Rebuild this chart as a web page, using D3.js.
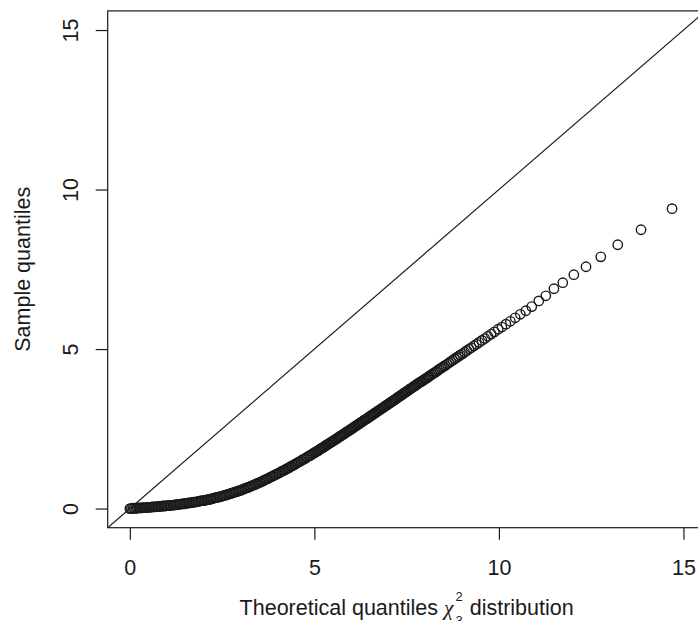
<!DOCTYPE html>
<html><head><meta charset="utf-8">
<script src="https://cdn.jsdelivr.net/npm/d3@7"></script>
<style>
body{margin:0;background:#fff}
svg{display:block}
text{font-family:"Liberation Sans",Arial,Helvetica,sans-serif;fill:#1a1a1a}
</style>
</head><body>
<svg id="chart" width="698" height="621"></svg>
<script>
// Theoretical quantiles (chi-square) and the matching sample quantiles
const theoretical = [
0.00,0.04,0.08,0.12,0.16,0.20,0.24,0.28,0.32,0.36,0.40,0.44,0.48,0.52,0.56,0.60,0.64,0.68,0.72,0.76,0.80,0.84,0.88,0.92,0.96,
1.00,1.04,1.08,1.12,1.16,1.20,1.24,1.28,1.32,1.36,1.40,1.44,1.48,1.52,1.56,1.60,1.64,1.68,1.72,1.76,1.80,1.84,1.88,1.92,1.96,
2.00,2.04,2.08,2.12,2.16,2.20,2.24,2.28,2.32,2.36,2.40,2.44,2.48,2.52,2.56,2.60,2.64,2.68,2.72,2.76,2.80,2.84,2.88,2.92,2.96,
3.00,3.04,3.08,3.12,3.16,3.20,3.24,3.28,3.32,3.36,3.40,3.44,3.48,3.52,3.56,3.60,3.64,3.68,3.72,3.76,3.80,3.84,3.88,3.92,3.96,
4.00,4.04,4.08,4.12,4.16,4.20,4.24,4.28,4.32,4.36,4.40,4.44,4.48,4.52,4.56,4.60,4.64,4.68,4.72,4.76,4.80,4.84,4.88,4.92,4.96,
5.00,5.03,5.06,5.09,5.12,5.15,5.18,5.21,5.24,5.27,5.30,5.33,5.36,5.39,5.42,5.45,5.48,5.51,5.54,5.57,5.60,5.63,5.66,5.69,5.72,
5.75,5.78,5.81,5.84,5.87,5.90,5.93,5.96,5.99,6.02,6.05,6.08,6.11,6.14,6.17,6.20,6.23,6.26,6.29,6.32,6.35,6.38,6.41,6.44,6.47,
6.50,6.53,6.56,6.59,6.62,6.65,6.68,6.71,6.74,6.77,6.80,6.83,6.86,6.89,6.92,6.95,6.98,7.01,7.04,7.07,7.10,7.13,7.16,7.19,7.22,
7.25,7.28,7.31,7.34,7.37,7.40,7.43,7.46,7.49,7.52,7.55,7.58,7.61,7.64,7.67,7.70,7.73,7.76,7.79,7.82,7.85,7.88,
7.91,7.94,7.97,8.01,8.04,8.08,8.11,8.15,8.19,8.23,8.27,8.31,8.35,8.39,8.43,8.47,8.51,
8.55,8.60,8.65,8.70,8.75,8.80,8.85,8.90,8.95,9.01,
9.07,9.13,9.19,9.25,9.32,9.39,9.46,9.54,9.62,9.70,9.79,9.88,9.98,
10.08,10.19,10.31,10.44,10.58,10.73,10.89,
11.08,11.27,11.49,11.73,12.03,12.36,12.76,13.22,13.85,14.69
];
const sample = [
0.00,0.00,0.01,0.01,0.01,0.01,0.02,0.02,0.02,0.03,0.03,0.03,0.04,0.04,0.04,0.05,0.05,0.05,0.06,0.06,0.07,0.07,0.08,0.08,0.08,
0.09,0.09,0.10,0.10,0.11,0.11,0.12,0.12,0.13,0.14,0.14,0.15,0.15,0.16,0.17,0.18,0.18,0.19,0.20,0.20,0.21,0.22,0.23,0.24,0.25,
0.25,0.26,0.27,0.28,0.29,0.30,0.31,0.33,0.34,0.35,0.36,0.37,0.38,0.40,0.41,0.42,0.44,0.45,0.47,0.48,0.50,0.51,0.53,0.54,0.56,
0.57,0.59,0.61,0.63,0.65,0.66,0.68,0.70,0.72,0.74,0.76,0.78,0.80,0.82,0.84,0.86,0.89,0.91,0.93,0.95,0.98,1.00,1.02,1.05,1.07,
1.09,1.12,1.14,1.17,1.19,1.21,1.24,1.26,1.29,1.32,1.34,1.37,1.39,1.42,1.45,1.47,1.50,1.53,1.55,1.58,1.61,1.64,1.66,1.69,1.72,
1.75,1.77,1.79,1.81,1.83,1.86,1.88,1.90,1.92,1.94,1.97,1.99,2.01,2.03,2.06,2.08,2.10,2.12,2.14,2.17,2.19,2.21,2.24,2.26,2.28,
2.30,2.33,2.35,2.37,2.40,2.42,2.44,2.46,2.49,2.51,2.53,2.56,2.58,2.60,2.63,2.65,2.67,2.70,2.72,2.74,2.77,2.79,2.81,2.83,2.86,
2.88,2.91,2.93,2.95,2.98,3.00,3.02,3.05,3.07,3.09,3.12,3.14,3.16,3.19,3.21,3.24,3.26,3.28,3.31,3.33,3.35,3.38,3.40,3.42,3.45,
3.47,3.50,3.52,3.54,3.57,3.59,3.62,3.64,3.66,3.69,3.71,3.74,3.76,3.78,3.81,3.83,3.85,3.88,3.90,3.93,3.95,3.97,
3.99,4.01,4.04,4.07,4.09,4.12,4.15,4.18,4.21,4.24,4.27,4.30,4.34,4.37,4.40,4.43,4.46,
4.49,4.53,4.57,4.61,4.65,4.69,4.73,4.77,4.81,4.85,
4.90,4.95,5.00,5.04,5.10,5.15,5.21,5.27,5.33,5.40,5.47,5.54,5.62,
5.69,5.78,5.87,5.98,6.09,6.20,6.33,
6.51,6.67,6.89,7.08,7.33,7.58,7.89,8.27,8.74,9.40
];
const xTicks = [0, 5, 10, 15];
const yTicks = [0, 5, 10, 15];
const axisLimits = [-0.6, 15.6];
const yTitle = "Sample quantiles";
const xTitleBefore = "Theoretical quantiles ";
const xTitleSymbol = "χ";
const xTitleSup = "2";
const xTitleSub = "3";
const xTitleAfter = " distribution";

const ink = "#1a1a1a";
const svg = d3.select("#chart");
const plot = {left: 107.7, right: 705.6, top: 10.9, bottom: 527.7};

const x = d3.scaleLinear().domain(axisLimits).range([plot.left, plot.right]);
const y = d3.scaleLinear().domain(axisLimits).range([plot.bottom, plot.top]);

svg.append("defs").append("clipPath").attr("id", "clip")
  .append("rect")
  .attr("x", plot.left).attr("y", plot.top)
  .attr("width", plot.right - plot.left).attr("height", plot.bottom - plot.top);

const inner = svg.append("g").attr("clip-path", "url(#clip)");

// reference line y = x
inner.append("line")
  .attr("x1", x(axisLimits[0])).attr("y1", y(axisLimits[0]))
  .attr("x2", x(axisLimits[1])).attr("y2", y(axisLimits[1]))
  .attr("stroke", ink).attr("stroke-width", 1.2);

// points
inner.append("g").selectAll("circle")
  .data(theoretical.map((t, i) => [t, sample[i]]))
  .join("circle")
  .attr("cx", d => x(d[0]))
  .attr("cy", d => y(d[1]))
  .attr("r", 4.7)
  .attr("fill", "none")
  .attr("stroke", ink)
  .attr("stroke-width", 1.4);

// box
svg.append("rect")
  .attr("x", plot.left).attr("y", plot.top)
  .attr("width", plot.right - plot.left).attr("height", plot.bottom - plot.top)
  .attr("fill", "none").attr("stroke", ink).attr("stroke-width", 1.2);

// bottom axis
const gx = svg.append("g").attr("transform", `translate(0,${plot.bottom})`)
  .call(d3.axisBottom(x).tickValues(xTicks).tickSize(12).tickSizeOuter(0).tickFormat(d3.format("d")));
gx.select(".domain").remove();
gx.selectAll(".tick line").attr("stroke", ink).attr("stroke-width", 1.2);
gx.selectAll(".tick text")
  .attr("y", 47.5).attr("dy", null)
  .attr("font-size", 21.5).attr("fill", ink)
  .style("font-family", '"Liberation Sans", Arial, sans-serif');

// left axis
const gy = svg.append("g").attr("transform", `translate(${plot.left},0)`)
  .call(d3.axisLeft(y).tickValues(yTicks).tickSize(12).tickSizeOuter(0).tickFormat(d3.format("d")));
gy.select(".domain").remove();
gy.selectAll(".tick line").attr("stroke", ink).attr("stroke-width", 1.2);
gy.selectAll(".tick text")
  .attr("x", null).attr("dy", null)
  .attr("text-anchor", "middle")
  .attr("transform", `translate(${77.5 - plot.left},0) rotate(-90)`)
  .attr("font-size", 21.5).attr("fill", ink)
  .style("font-family", '"Liberation Sans", Arial, sans-serif');

// y title
svg.append("text")
  .attr("transform", `translate(30,${(plot.top + plot.bottom) / 2}) rotate(-90)`)
  .attr("text-anchor", "middle")
  .attr("font-size", 21.5)
  .text(yTitle);

// x title with chi-square symbol (subscript is cut by the lower edge, as in the reference)
const xt = svg.append("text")
  .attr("x", (plot.left + plot.right) / 2)
  .attr("y", 615)
  .attr("text-anchor", "middle")
  .attr("font-size", 21.5);
xt.append("tspan").text(xTitleBefore);
xt.append("tspan").attr("font-family", '"Liberation Serif", "DejaVu Serif", serif')
  .attr("font-style", "italic").text(xTitleSymbol);
xt.append("tspan").attr("font-size", 13).attr("dx", 2).attr("dy", -14).text(xTitleSup);
xt.append("tspan").attr("font-size", 13).attr("dx", -7.2).attr("dy", 23.5).text(xTitleSub);
xt.append("tspan").attr("dx", 1).attr("dy", -9.5).text(xTitleAfter);
</script>
</body></html>
